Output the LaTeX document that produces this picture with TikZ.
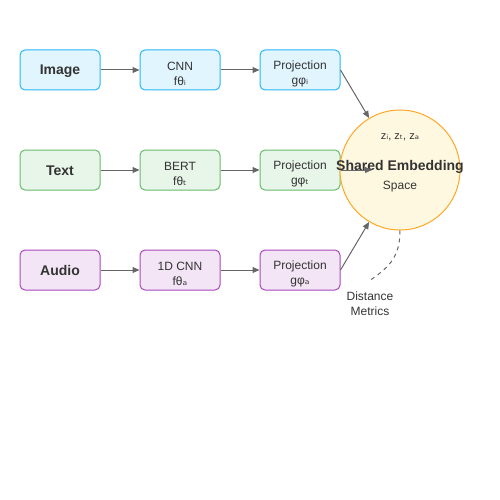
\documentclass[tikz,border=0pt]{standalone}
\usepackage{fontspec}
\setmainfont{Liberation Sans}
\newfontfamily\subfnt{DejaVu Sans}
\usetikzlibrary{arrows.meta}

\definecolor{txt}{HTML}{333333}
\definecolor{arrcol}{HTML}{666666}
\definecolor{imgfill}{HTML}{E1F5FE}
\definecolor{imgline}{HTML}{29B6F6}
\definecolor{txtfill}{HTML}{E8F5E9}
\definecolor{txtline}{HTML}{66BB6A}
\definecolor{audfill}{HTML}{F3E5F5}
\definecolor{audline}{HTML}{AB47BC}
\definecolor{spfill}{HTML}{FFF8E1}
\definecolor{spline}{HTML}{FFA726}

\newcommand{\sbi}{{\subfnt ᵢ}}
\newcommand{\sbt}{{\subfnt ₜ}}
\newcommand{\sba}{{\subfnt ₐ}}
\newcommand{\tstrut}{\rule{0pt}{17pt}}

\begin{document}
\begin{tikzpicture}[x=1pt,y=-1pt,
  box/.style={draw, rounded corners=5pt, line width=1pt, minimum width=80pt,
    minimum height=40pt, text=txt, align=center, inner sep=0pt},
  modal/.style={box, font=\fontsize{14}{16}\selectfont\bfseries,
    text height=12pt, text depth=2pt},
  enc/.style={box, font=\fontsize{12}{15}\selectfont},
  arr/.style={-{Triangle[length=7pt,width=6pt]}, arrcol, line width=1pt},
  lbl/.style={text=txt, align=center, inner sep=0pt}]
\useasboundingbox (0,0) rectangle (500,500);

% inputs
\node[modal, fill=imgfill, draw=imgline] (image) at (60,70) {Image};
\node[modal, fill=txtfill, draw=txtline] (text) at (60,170) {Text};
\node[modal, fill=audfill, draw=audline] (audio) at (60,270) {Audio};

% encoders
\node[enc, fill=imgfill, draw=imgline] (cnn) at (180,70) {\tstrut CNN\\fθ\sbi};
\node[enc, fill=txtfill, draw=txtline] (bert) at (180,170) {\tstrut BERT\\fθ\sbt};
\node[enc, fill=audfill, draw=audline] (cnn1d) at (180,270) {\tstrut 1D CNN\\fθ\sba};

% projections
\node[enc, fill=imgfill, draw=imgline] (proj1) at (300,70) {\tstrut Projection\\gφ\sbi};
\node[enc, fill=txtfill, draw=txtline] (proj2) at (300,170) {\tstrut Projection\\gφ\sbt};
\node[enc, fill=audfill, draw=audline] (proj3) at (300,270) {\tstrut Projection\\gφ\sba};

% shared space
\node[circle, draw=spline, fill=spfill, line width=1pt, minimum size=120pt,
  inner sep=0pt] (space) at (400,170) {};
\node[lbl, font=\fontsize{11}{13}\selectfont] (zvec) at (400,137) {z\sbi, z\sbt, z\sba};
\node[lbl, font=\fontsize{14}{16}\selectfont\bfseries] (shared) at (400,167) {Shared Embedding};
\node[lbl, font=\fontsize{12}{14}\selectfont] (spname) at (400,187) {Space};

\node[lbl, font=\fontsize{12}{15}\selectfont] (dist) at (370,304) {Distance\\Metrics};
\coordinate (midin) at (372,170);
\coordinate (distend) at (369,281);

\draw[arr] (image) -- (cnn);
\draw[arr] (text) -- (bert);
\draw[arr] (audio) -- (cnn1d);
\draw[arr] (cnn) -- (proj1);
\draw[arr] (bert) -- (proj2);
\draw[arr] (cnn1d) -- (proj3);
\draw[arr] (proj1.east) -- (space);
\draw[arr] (proj2.east) -- (midin);
\draw[arr] (proj3.east) -- (space);

\draw[arrcol, line width=1pt, dash pattern=on 4pt off 4pt]
  (space.south) .. controls (400,258) and (388,268) .. (distend);
\end{tikzpicture}
\end{document}
